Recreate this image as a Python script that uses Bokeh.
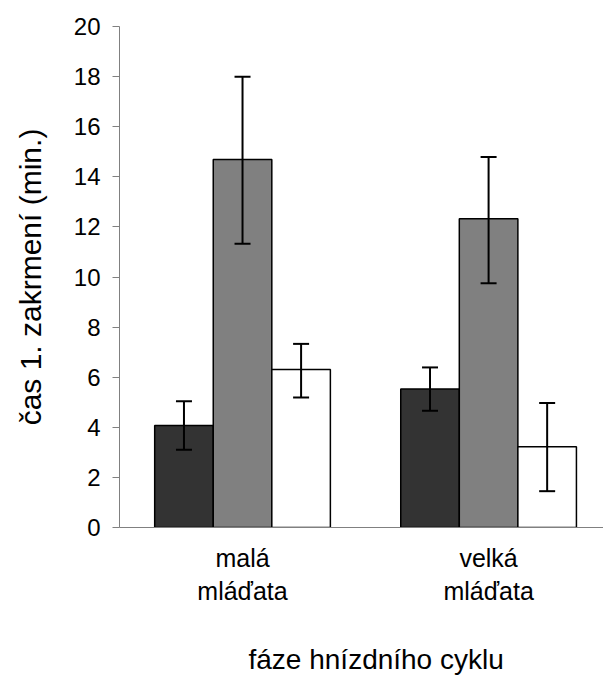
from bokeh.plotting import figure
from bokeh.models import Range1d, ColumnDataSource, Whisker, TeeHead, FixedTicker, Title
from bokeh.embed import file_html
from bokeh.resources import INLINE

categories = ["malá\nmláďata", "velká\nmláďata"]
dark_vals = [4.07, 5.53]
dark_lo = [3.10, 4.66]
dark_hi = [5.04, 6.39]
gray_vals = [14.69, 12.33]
gray_lo = [11.33, 9.75]
gray_hi = [17.99, 14.79]
white_vals = [6.31, 3.22]
white_lo = [5.19, 1.45]
white_hi = [7.33, 4.97]
y_ticks = [0, 2, 4, 6, 8, 10, 12, 14, 16, 18, 20]
x_title = "fáze hnízdního cyklu"
y_title = "čas 1. zakrmení (min.)"

FONT = "Liberation Sans"
centers = [0.5 + i for i in range(len(categories))]
bw = 0.238

p = figure(width=603, height=677, output_backend="svg", toolbar_location=None,
           x_range=Range1d(0, 1.967), y_range=Range1d(0, 20),
           min_border_left=119, min_border_right=0, min_border_top=26, min_border_bottom=150)
p.outline_line_color = None
p.xgrid.visible = False
p.ygrid.visible = False

series = [(dark_vals, dark_lo, dark_hi, "#333333", -bw),
          (gray_vals, gray_lo, gray_hi, "#808080", 0.0),
          (white_vals, white_lo, white_hi, "#ffffff", bw)]
for vals, lo, hi, col, off in series:
    xs = [c + off for c in centers]
    src = ColumnDataSource(dict(x=xs, top=vals, lo=lo, hi=hi))
    p.vbar(x="x", top="top", bottom=0, width=bw, source=src, fill_color=col,
           line_color="black", line_width=1.5)
    w = Whisker(base="x", upper="hi", lower="lo", source=src, dimension="height",
                line_color="black", line_width=2, level="overlay",
                upper_head=TeeHead(size=16, line_color="black", line_width=2),
                lower_head=TeeHead(size=16, line_color="black", line_width=2))
    p.add_layout(w)

p.yaxis.ticker = FixedTicker(ticks=y_ticks)
p.yaxis.axis_line_color = "#808080"
p.yaxis.major_tick_line_color = "#808080"
p.yaxis.major_tick_out = 7
p.yaxis.major_tick_in = 0
p.yaxis.minor_tick_line_color = None
p.yaxis.major_label_text_font = FONT
p.yaxis.major_label_text_font_size = "24px"
p.yaxis.major_label_text_color = "black"
p.yaxis.major_label_standoff = 12
p.yaxis.axis_label = y_title
p.yaxis.axis_label_text_font = FONT
p.yaxis.axis_label_text_font_size = "30px"
p.yaxis.axis_label_text_font_style = "normal"
p.yaxis.axis_label_text_color = "black"
p.yaxis.axis_label_standoff = 24

p.xaxis.ticker = FixedTicker(ticks=centers)
p.xaxis.major_label_overrides = {c: lab for c, lab in zip(centers, categories)}
p.xaxis.axis_line_color = "#808080"
p.xaxis.major_tick_line_color = None
p.xaxis.minor_tick_line_color = None
p.xaxis.major_label_text_font = FONT
p.xaxis.major_label_text_font_size = "25px"
p.xaxis.major_label_text_color = "black"
p.xaxis.major_label_standoff = 10

spacer = Title(text=" ", text_font=FONT, text_font_size="25px", standoff=0)
p.add_layout(spacer, "below")
t = Title(text=x_title, align="left", offset=129, text_font=FONT, text_font_size="28px",
          text_font_style="normal", text_color="black", standoff=6)
p.add_layout(t, "below")

open("out.html", "w").write(file_html(p, INLINE))
